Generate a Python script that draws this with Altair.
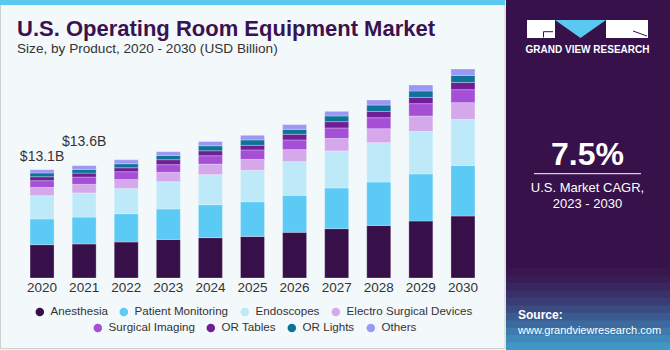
import altair as alt
import pandas as pd

years = ["2020", "2021", "2022", "2023", "2024", "2025", "2026", "2027", "2028", "2029", "2030"]
products = ["Anesthesia", "Patient Monitoring", "Endoscopes", "Electro Surgical Devices",
            "Surgical Imaging", "OR Tables", "OR Lights", "Others"]
colors = ["#37104A", "#5BCAF5", "#BDE9F9", "#D5A8EC", "#A54ED6", "#6E1F96", "#0E7399", "#9B97F5"]

anesthesia = [4.03, 4.12, 4.36, 4.67, 4.88, 5.03, 5.52, 5.97, 6.36, 6.90, 7.50]
patient_monitoring = [3.11, 3.25, 3.42, 3.68, 3.99, 4.20, 4.48, 4.92, 5.25, 5.69, 6.12]
endoscopes = [2.82, 2.92, 3.06, 3.30, 3.63, 3.79, 4.08, 4.48, 4.76, 5.15, 5.57]
electro_surgical = [1.00, 1.04, 1.09, 1.13, 1.29, 1.33, 1.45, 1.52, 1.69, 1.86, 2.02]
surgical_imaging = [0.81, 0.88, 0.93, 0.93, 1.00, 1.14, 1.17, 1.26, 1.33, 1.49, 1.57]
or_tables = [0.48, 0.48, 0.48, 0.60, 0.60, 0.56, 0.68, 0.76, 0.76, 0.76, 0.88]
or_lights = [0.45, 0.45, 0.48, 0.52, 0.60, 0.65, 0.60, 0.69, 0.77, 0.77, 0.85]
others = [0.40, 0.45, 0.48, 0.45, 0.52, 0.56, 0.57, 0.56, 0.61, 0.73, 0.77]

label_years = ["2020", "2021"]
label_texts = ["$13.1B", "$13.6B"]

title_text = "U.S. Operating Room Equipment Market"
subtitle_text = "Size, by Product, 2020 - 2030 (USD Billion)"
cagr_text = "7.5%"
cagr_line1 = "U.S. Market CAGR,"
cagr_line2 = "2023 - 2030"
brand_text = "GRAND VIEW RESEARCH"
source_label = "Source:"
source_url = "www.grandviewresearch.com"

series = [anesthesia, patient_monitoring, endoscopes, electro_surgical,
          surgical_imaging, or_tables, or_lights, others]
rows = []
for i, (p, vals) in enumerate(zip(products, series)):
    for y, v in zip(years, vals):
        rows.append({"year": y, "product": p, "value": v, "idx": i})
df = pd.DataFrame(rows)
totals = df.groupby("year", as_index=False)["value"].sum()
totals["base"] = 0.0
lab = totals[totals["year"].isin(label_years)].copy()
lab["text"] = [label_texts[label_years.index(y)] for y in lab["year"]]

FONT = "Liberation Sans"
BG = "#F3F8FB"
PANEL = "#37114A"
# bottom fade of the side panel (decoration)
fade_colors = ["#38164E", "#391D56", "#3A265F", "#3A3169", "#3A3D75", "#3A4B82",
               "#3B5A90", "#3C6A9E", "#3D7AAD", "#3E89BA", "#3F97C6"]

x_scale = alt.Scale(domain=years, range=[21, 484], paddingInner=0.43, paddingOuter=0.215)
y_scale = alt.Scale(domain=[0, 30], range=[278, 30])

one = pd.DataFrame({"a": [0]})


def rect(x1, x2, y1, y2, color, **kw):
    return alt.Chart(one).mark_rect(color=color, **kw).encode(
        x=alt.value(x1), x2=alt.value(x2), y=alt.value(y1), y2=alt.value(y2))


def text(t, x, y, size, color="#333333", weight="normal", align="left", **kw):
    return alt.Chart(one).mark_text(text=t, fontSize=size, font=FONT, fontWeight=weight,
                                    color=color, align=align, baseline="alphabetic", **kw).encode(
        x=alt.value(x), y=alt.value(y))


def rule(x1, y1, x2, y2, color, w=1.0):
    return alt.Chart(one).mark_rule(color=color, strokeWidth=w).encode(
        x=alt.value(x1), x2=alt.value(x2), y=alt.value(y1), y2=alt.value(y2))


# background pieces
border = alt.Chart(one).mark_rect(fill=BG, stroke="#CFCFCF", strokeWidth=1).encode(
    x=alt.value(0.5), x2=alt.value(505), y=alt.value(0), y2=alt.value(348.5))
stripe = rect(0, 505, 0, 5, "#5BC8F0")
panel = rect(506, 670, 0, 350, PANEL)
fade_layers = []
n_f = len(fade_colors)
for k, c in enumerate(fade_colors):
    y1 = 268 + k * (350 - 268) / n_f
    y2 = 268 + (k + 1) * (350 - 268) / n_f
    fade_layers.append(rect(506, 670, y1, y2 + 0.5, c))

legend_common = dict(orient="none", direction="horizontal", title=None,
                     symbolType="circle", symbolOpacity=1, symbolSize=72,
                     symbolStrokeWidth=0,
                     labelFont=FONT, labelFontSize=11.6, labelColor="#333333",
                     labelOffset=5, columnPadding=10, padding=0)

# bars: their colour legend shows the second row of products
bars = alt.Chart(df).mark_bar(stroke="#FFFFFF", strokeWidth=0.6, strokeOpacity=0.45).encode(
    x=alt.X("year:N", scale=x_scale, axis=None),
    y=alt.Y("value:Q", stack="zero", scale=y_scale, axis=None),
    color=alt.Color("product:N", scale=alt.Scale(domain=products, range=colors),
                    legend=alt.Legend(values=products[4:], legendX=92, legendY=322,
                                      **legend_common)),
    order=alt.Order("idx:Q", sort="ascending"),
)

# first legend row via the fill channel
sub1 = df[df["product"].isin(products[:4])]
leg1 = alt.Chart(sub1).mark_circle(opacity=0).encode(
    fill=alt.Fill("product:N", scale=alt.Scale(domain=products[:4], range=colors[:4]),
                  legend=alt.Legend(legendX=34, legendY=306, **legend_common)))

year_labels = alt.Chart(totals).mark_text(fontSize=13.5, font=FONT, color="#333333",
                                          baseline="alphabetic", dy=13.5).encode(
    x=alt.X("year:N", scale=x_scale, axis=None),
    y=alt.Y("base:Q", scale=y_scale, axis=None),
    text="year:N",
)

lab1 = alt.Chart(lab[lab["year"] == label_years[0]]).mark_text(
    fontSize=14, font=FONT, color="#333333", baseline="alphabetic", dy=-8.5).encode(
    x=alt.X("year:N", scale=x_scale, axis=None),
    y=alt.Y("value:Q", scale=y_scale, axis=None),
    text="text:N")
lab2 = alt.Chart(lab[lab["year"] == label_years[1]]).mark_text(
    fontSize=14, font=FONT, color="#333333", baseline="alphabetic", dy=-20).encode(
    x=alt.X("year:N", scale=x_scale, axis=None),
    y=alt.Y("value:Q", scale=y_scale, axis=None),
    text="text:N")

title = text(title_text, 17, 35.5, 22, color="#3A1250", weight="bold")
subtitle = text(subtitle_text, 17, 53, 13.6, color="#333333")

logo_g = rect(527, 555, 20, 38, "#FFFFFF")
logo_r = rect(606, 648, 20, 38, "#FFFFFF")
logo_v = alt.Chart(one).mark_point(shape="M -1 -0.35 L 1 -0.35 L 0 0.35 Z", filled=True,
                                   opacity=1, color="#5BC8F0", size=2601, strokeWidth=0).encode(
    x=alt.value(580.5), y=alt.value(29))
g_notch1 = rule(543.5, 31.7, 553, 31.7, PANEL, 1)
g_notch2 = rule(543.5, 31.7, 543.5, 37.5, PANEL, 1)
r_notch = rule(633, 31, 647, 36, PANEL, 1)
brand = text(brand_text, 587.5, 53, 10, color="#FFFFFF", weight="bold", align="center")

cagr = text(cagr_text, 587.5, 165, 32, color="#FFFFFF", weight="bold", align="center")
cagr_rule = rule(534, 173.7, 641, 173.7, "#FFFFFF", 1)
c1 = text(cagr_line1, 587.5, 192, 13, color="#FFFFFF", align="center")
c2 = text(cagr_line2, 587.5, 208, 13, color="#FFFFFF", align="center")
src1 = text(source_label, 518, 319, 12, color="#FFFFFF", weight="bold")
src2 = text(source_url, 518, 334, 11, color="#FFFFFF")

chart = alt.layer(
    border, stripe, panel, *fade_layers,
    bars, leg1, year_labels, lab1, lab2,
    title, subtitle,
    logo_g, logo_r, logo_v, g_notch1, g_notch2, r_notch, brand,
    cagr, cagr_rule, c1, c2, src1, src2,
).properties(
    width=670, height=350,
    autosize=alt.AutoSizeParams(type="none"),
    padding=0, background=BG,
).configure_view(stroke=None)

chart.save("out.html", embed_options={"renderer": "svg", "actions": False})
